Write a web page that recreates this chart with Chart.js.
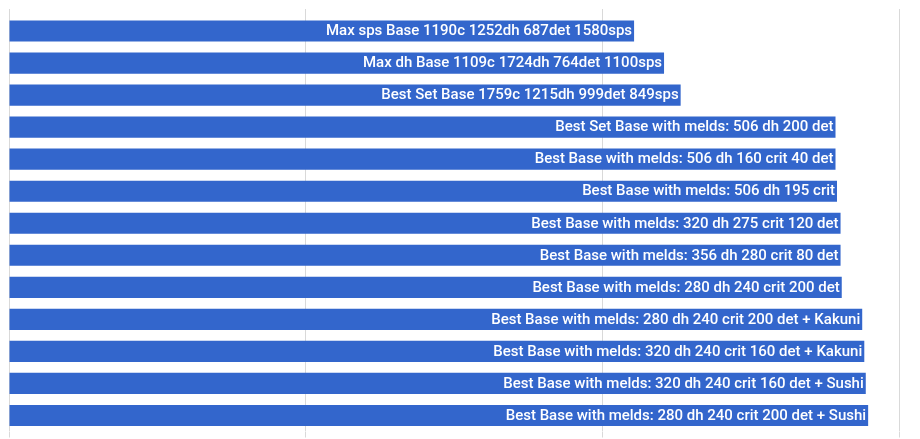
<!DOCTYPE html>
<html>
<head>
<meta charset="utf-8">
<script src="https://cdn.jsdelivr.net/npm/chart.js@4"></script>
<style>
    html, body { margin: 0; padding: 0; background: #fff; }
    #wrap { width: 920px; height: 439px; position: relative; }
</style>
</head>
<body>
<div id="wrap"><canvas id="setsChart"></canvas></div>
<script>
// gear sets (bar labels), top to bottom
const setNames = [
    'Max sps Base 1190c 1252dh 687det 1580sps',
    'Max dh Base 1109c 1724dh 764det 1100sps',
    'Best Set Base 1759c 1215dh 999det 849sps',
    'Best Set Base with melds: 506 dh 200 det',
    'Best Base with melds: 506 dh 160 crit 40 det',
    'Best Base with melds: 506 dh 195 crit',
    'Best Base with melds: 320 dh 275 crit 120 det',
    'Best Base with melds: 356 dh 280 crit 80 det',
    'Best Base with melds: 280 dh 240 crit 200 det',
    'Best Base with melds: 280 dh 240 crit 200 det + Kakuni',
    'Best Base with melds: 320 dh 240 crit 160 det + Kakuni',
    'Best Base with melds: 320 dh 240 crit 160 det + Sushi',
    'Best Base with melds: 280 dh 240 crit 200 det + Sushi'
];

// estimated bar values (axis labels are hidden in the original)
const setValues = [2107, 2208, 2264, 2786, 2786, 2791, 2803, 2803, 2807, 2876, 2883, 2888, 2896];

const axisMin = 0;
const axisMax = 3000;
const axisStep = 1000;

// writes each label inside its bar, right aligned
const barLabels = {
    id: 'barLabels',
    afterDatasetsDraw(chart) {
        const ctx = chart.ctx;
        const meta = chart.getDatasetMeta(0);
        ctx.save();
        ctx.font = '500 15px Roboto';
        ctx.fillStyle = '#ffffff';
        ctx.textAlign = 'right';
        ctx.textBaseline = 'middle';
        meta.data.forEach((bar, i) => {
            ctx.fillText(setNames[i], bar.x - 2, bar.y + 0.5);
        });
        ctx.restore();
    }
};

const ctx = document.querySelector('#setsChart');
new Chart(ctx, {
    type: 'bar',
    data: {
        labels: setNames,
        datasets: [{
            data: setValues,
            backgroundColor: '#3366cc',
            borderWidth: 0,
            barPercentage: 0.66,
            categoryPercentage: 1
        }]
    },
    options: {
        indexAxis: 'y',
        responsive: true,
        maintainAspectRatio: false,
        animation: false,
        layout: {
            padding: { left: 9, right: 21, top: 9, bottom: 1.5 }
        },
        plugins: {
            legend: { display: false },
            tooltip: { enabled: false }
        },
        scales: {
            x: {
                position: 'top',
                min: axisMin,
                max: axisMax,
                ticks: { display: false, stepSize: axisStep },
                grid: { color: '#d9d9d9', drawTicks: true, tickLength: 6 },
                border: { display: false }
            },
            x2: {
                type: 'linear',
                position: 'bottom',
                min: axisMin,
                max: axisMax,
                ticks: { display: false, stepSize: axisStep },
                grid: { color: '#d9d9d9', drawTicks: true, tickLength: 6, drawOnChartArea: false },
                border: { display: false }
            },
            y: {
                display: false
            }
        }
    },
    plugins: [barLabels]
});
</script>
</body>
</html>
